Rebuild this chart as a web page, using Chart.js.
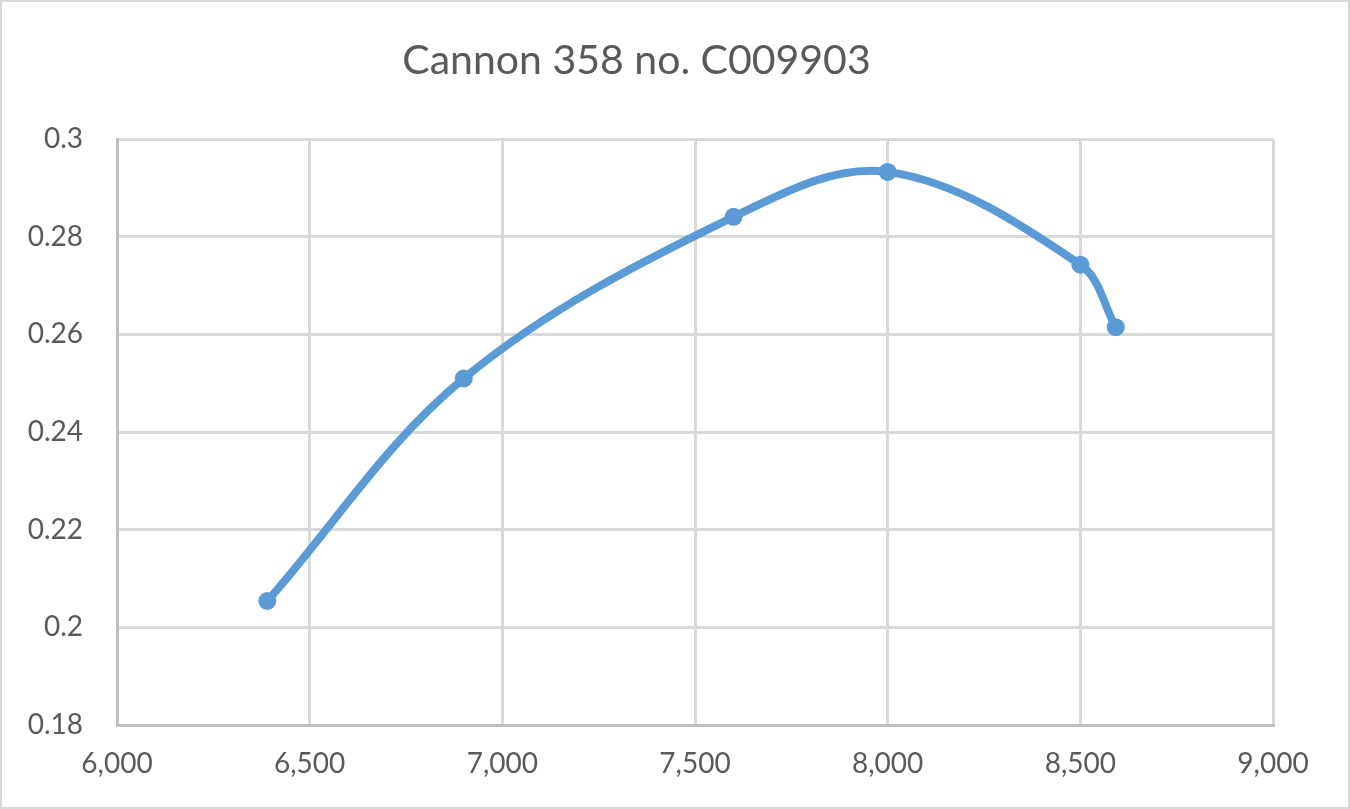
<!DOCTYPE html>
<html>
<head>
<meta charset="utf-8">
<script src="https://cdn.jsdelivr.net/npm/chart.js@4/dist/chart.umd.min.js"></script>
<style>
  html, body { margin: 0; padding: 0; background: #fff; }
  #wrap { width: 1350px; height: 809px; position: relative; }
</style>
</head>
<body>
<div id="wrap"><canvas id="c" width="1350" height="809"></canvas></div>
<script>
const chartTitle = "Cannon 358 no. C009903";
const xValues = [6390, 6900, 7600, 8000, 8500, 8592];
const yValues = [0.2054, 0.2510, 0.2841, 0.2933, 0.2743, 0.2615];
const xTicks = [6000, 6500, 7000, 7500, 8000, 8500, 9000];
const yTicks = [0.18, 0.2, 0.22, 0.24, 0.26, 0.28, 0.3];

const points = xValues.map((x, i) => ({ x: x, y: yValues[i] }));
const FONT = "Lato, 'Open Sans', sans-serif";
const TEXT = "#595959";

const frame = {
  id: 'frame',
  afterDraw(chart) {
    const ctx = chart.ctx;
    ctx.save();
    ctx.strokeStyle = '#d9d9d9';
    ctx.lineWidth = 2;
    ctx.strokeRect(1, 1, chart.width - 2, chart.height - 2);
    ctx.restore();
  }
};

new Chart(document.getElementById('c'), {
  type: 'scatter',
  data: {
    datasets: [{
      data: points,
      showLine: true,
      borderColor: '#5B9BD5',
      backgroundColor: '#5B9BD5',
      borderWidth: 8,
      pointRadius: 9,
      pointBorderWidth: 0,
      tension: 0.35,
      borderCapStyle: 'round',
      borderJoinStyle: 'round'
    }]
  },
  options: {
    responsive: false,
    animation: false,
    layout: { padding: { left: 0, right: 77, top: 0, bottom: 0 } },
    plugins: {
      legend: { display: false },
      tooltip: { enabled: false },
      title: {
        display: true,
        text: chartTitle,
        color: TEXT,
        font: { family: FONT, size: 41, weight: 'normal' },
        padding: { top: 36, bottom: 54 }
      }
    },
    scales: {
      x: {
        type: 'linear',
        min: 6000, max: 9000,
        afterBuildTicks(scale) { scale.ticks = xTicks.map(v => ({ value: v })); },
        afterFit(scale) { scale.height = 84; },
        grid: { color: '#d9d9d9', lineWidth: 3, drawTicks: false },
        border: { color: '#bfbfbf', width: 3 },
        ticks: {
          color: TEXT,
          font: { family: FONT, size: 28 },
          padding: 22,
          maxRotation: 0,
          callback: v => v.toLocaleString('en-US')
        }
      },
      y: {
        type: 'linear',
        min: 0.18, max: 0.3,
        afterBuildTicks(scale) { scale.ticks = yTicks.map(v => ({ value: v })); },
        afterFit(scale) { scale.width = 117; },
        grid: { color: '#d9d9d9', lineWidth: 3, drawTicks: false },
        border: { color: '#bfbfbf', width: 3 },
        ticks: {
          color: TEXT,
          font: { family: FONT, size: 28 },
          padding: 34,
          callback: v => String(Math.round(v * 100) / 100)
        }
      }
    }
  },
  plugins: [frame]
});
</script>
</body>
</html>
